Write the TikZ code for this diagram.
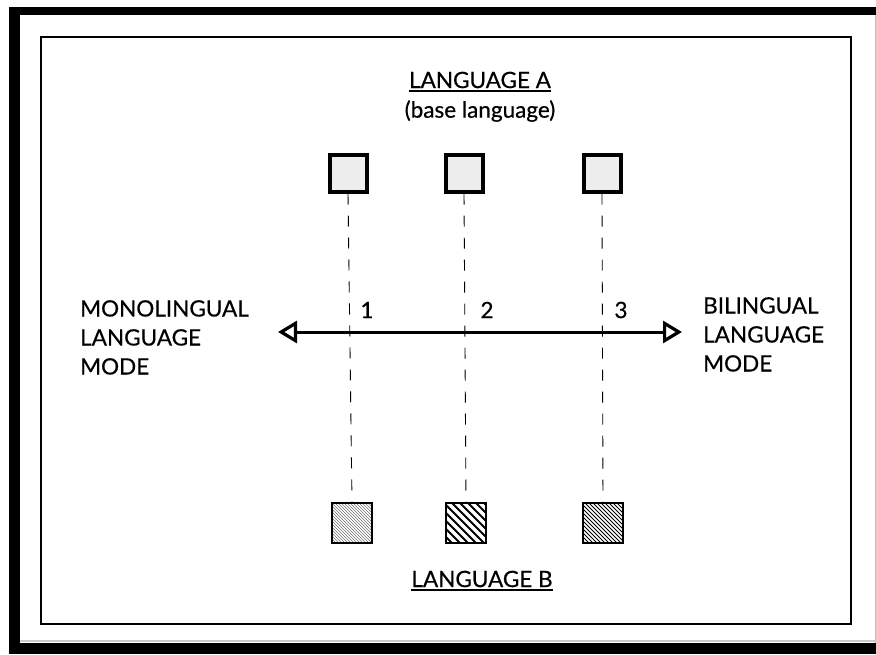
\documentclass[tikz,border=0pt]{standalone}
\usepackage{fontspec}
\setmainfont{Lato}[FakeBold=0.5,AutoFakeBold=0.5]
\usetikzlibrary{arrows.meta,patterns}
\begin{document}
\begin{tikzpicture}[x=1pt,y=-1pt,
  topbox/.style={draw=black,line width=4pt,fill=black!7,minimum size=37pt,inner sep=0pt},
  botbox/.style={draw=black,line width=1.2pt,minimum size=40pt,inner sep=0pt},
  vdash/.style={line width=0.9pt,dash pattern=on 11pt off 11pt},
  lbl/.style={font=\fontsize{22.5}{29}\selectfont\bfseries,inner sep=0pt},
  modetxt/.style={font=\fontsize{22.5}{29}\selectfont\bfseries,align=left,inner sep=0pt},
  tip/.tip={Triangle[open,length=19pt,width=22pt,line width=3.2pt]}]
\useasboundingbox (0,0) rectangle (876,654);
% outer black frame
\fill[black] (9,7) rectangle (20,654);
\fill[black] (9,7) rectangle (876,15);
\fill[black] (9,643) rectangle (876,654);
\draw[black!25,line width=1pt] (875,15) -- (875,643);
\draw[black!20,line width=2pt] (20,641) -- (876,641);
% inner frame
\draw[line width=1.8pt] (41,37) rectangle (851,624);
% titles
\node[lbl] (la) at (480,80) {LANGUAGE A};
\coordinate (ua) at (0,91);
\draw[line width=1.3pt] (la.west |- ua) -- (la.east |- ua);
\node[lbl] (base) at (480,111) {(base language)};
\node[lbl] (lb) at (482,579) {LANGUAGE B};
\coordinate (ub) at (0,590);
\draw[line width=1.3pt] (lb.west |- ub) -- (lb.east |- ub);
% top boxes
\node[topbox] (a1) at (348,173) {};
\node[topbox] (a2) at (464,173) {};
\node[topbox] (a3) at (602,173) {};
% bottom boxes
\node[botbox,pattern=north west lines,pattern color=black!55] (b1) at (352,523) {};
\node[botbox] (b2) at (466,523) {};
\node[botbox] (b3) at (603,523) {};
\begin{scope}
\clip (b2.south west) rectangle (b2.north east);
\foreach \i in {-50,-42,...,50} {\draw[line width=1.8pt] ([xshift=\i pt]b2.north west) -- ++(50,50);}
\end{scope}
\begin{scope}
\clip (b3.south west) rectangle (b3.north east);
\foreach \i in {-50,-46,...,50} {\draw[line width=0.9pt] ([xshift=\i pt]b3.north west) -- ++(50,50);}
\end{scope}
\draw[botbox,fill=none] (b2.north west) rectangle (b2.south east);
\draw[botbox,fill=none] (b3.north west) rectangle (b3.south east);
% dashed lines
\draw[vdash] (a1.south) -- (b1.north);
\draw[vdash] (a2.south) -- (b2.north);
\draw[vdash] (a3.south) -- (b3.north);
% arrow
\coordinate (L) at (278,332);
\coordinate (R) at (682,332);
\draw[line width=3pt,tip-tip] (L) -- (R);
% numbers
\node[lbl] (n1) at (367,310) {1};
\node[lbl] (n2) at (487,310) {2};
\node[lbl] (n3) at (621,310) {3};
% side labels
\node[modetxt,anchor=north west] (mono) at (80,300) {MONOLINGUAL\\LANGUAGE\\MODE};
\node[modetxt,anchor=north west] (bi) at (703,297) {BILINGUAL\\LANGUAGE\\MODE};
\end{tikzpicture}
\end{document}
